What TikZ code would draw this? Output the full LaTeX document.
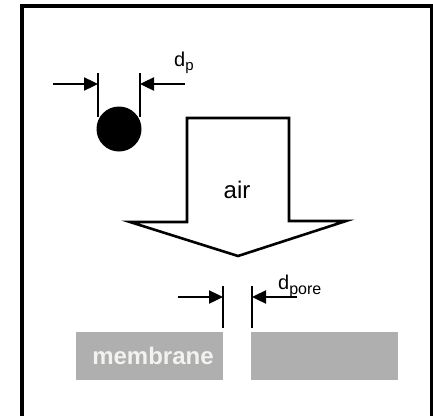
\documentclass[tikz,border=0pt]{standalone}
\usepackage{fontspec}
\setmainfont{Liberation Sans}
\usetikzlibrary{arrows.meta}
\definecolor{memgray}{HTML}{AFAFAF}
\definecolor{memtext}{HTML}{F2F2EE}
\begin{document}
\begin{tikzpicture}[x=1pt,y=-1pt,
  frame/.style={line width=3.4pt},
  dimline/.style={line width=2.6pt},
  dimarrow/.style={line width=2.4pt,-{Triangle[length=14pt,width=13pt]}},
  membox/.style={fill=memgray,draw=none,minimum width=147pt,minimum height=48pt,inner sep=0pt},
  lbl/.style={inner sep=0pt,font=\fontsize{20}{22}\selectfont}
]
\useasboundingbox (0,0) rectangle (433,415);
% frame
\draw[frame] (22,416) -- (22,6) -- (432,6) -- (432,416);
% particle
\node[circle,fill=black,minimum size=45pt,inner sep=0pt] (particle) at (119,129) {};
\coordinate (p1t) at (98,73);
\coordinate (p1b) at (98,117);
\coordinate (p2t) at (140,73);
\coordinate (p2b) at (140,117);
\draw[dimline] (p1t) -- (p1b);
\draw[dimline] (p2t) -- (p2b);
\coordinate (a1s) at (53,84);
\coordinate (a1e) at (98,84);
\coordinate (a2s) at (185,84);
\coordinate (a2e) at (140,84);
\draw[dimarrow] (a1s) -- (a1e);
\draw[dimarrow] (a2s) -- (a2e);
\node[lbl,anchor=base west] (dp) at (174,66) {d\raisebox{-4pt}{\fontsize{15}{16}\selectfont p}};
% air arrow
\draw[line width=2.6pt,fill=white,line join=miter]
  (187,222) -- (187,118) -- (289,118) -- (289,221) -- (346,221) -- (238,256) -- (130,222) -- cycle;
\node[inner sep=0pt,font=\fontsize{24}{26}\selectfont] (air) at (237,190) {air};
% pore dimension
\coordinate (q1t) at (223,286);
\coordinate (q1b) at (223,328);
\coordinate (q2t) at (252,286);
\coordinate (q2b) at (252,328);
\draw[dimline] (q1t) -- (q1b);
\draw[dimline] (q2t) -- (q2b);
\coordinate (b1s) at (178,297);
\coordinate (b1e) at (223,297);
\coordinate (b2s) at (297,297);
\coordinate (b2e) at (252,297);
\draw[dimarrow] (b1s) -- (b1e);
\draw[dimarrow] (b2s) -- (b2e);
\node[lbl,anchor=base west] (dpore) at (278,289) {d\raisebox{-5pt}{\fontsize{16}{17}\selectfont pore}};
% membrane
\node[membox] (memL) at (149.5,356) {};
\node[membox] (memR) at (324.5,356) {};
\node[inner sep=0pt,text=memtext,font=\bfseries\fontsize{24}{26}\selectfont] (memlbl) at (153,356) {membrane};
\end{tikzpicture}
\end{document}
